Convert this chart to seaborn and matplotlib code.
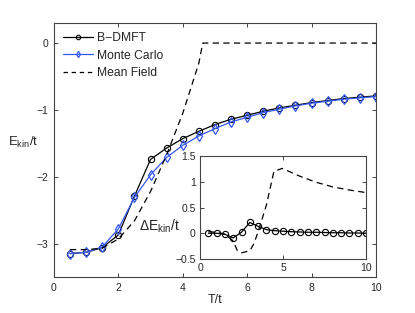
import matplotlib
matplotlib.use("Agg")
import matplotlib.pyplot as plt
import numpy as np
import pandas as pd
import seaborn as sns

# temperatures for the DMFT / MC points
T = [0.5, 1.0, 1.5, 2.0, 2.5, 3.0, 3.5, 4.0, 4.5, 5.0,
     5.5, 6.0, 6.5, 7.0, 7.5, 8.0, 8.5, 9.0, 9.5, 10.0]
bdmft = [-3.15, -3.13, -3.06, -2.87, -2.29, -1.74, -1.57, -1.43, -1.32, -1.22,
         -1.14, -1.08, -1.02, -0.97, -0.93, -0.89, -0.86, -0.83, -0.81, -0.79]
monte_carlo = [-3.15, -3.13, -3.05, -2.78, -2.31, -1.97, -1.71, -1.53, -1.39, -1.28,
               -1.18, -1.11, -1.04, -0.99, -0.94, -0.90, -0.87, -0.84, -0.82, -0.80]

# mean field curve
T_mf = [0.5, 1.0, 1.5, 2.0, 2.5, 3.0, 3.5, 4.0, 4.5, 4.62, 10.0]
mean_field = [-3.09, -3.09, -3.07, -2.93, -2.66, -2.22, -1.67, -1.05, -0.30, 0.0, 0.0]

# inset: differences
d_bdmft = [0.0, 0.0, -0.02, -0.09, 0.02, 0.21, 0.135, 0.07, 0.05, 0.04,
           0.03, 0.025, 0.02, 0.02, 0.015, 0.01, 0.01, 0.005, 0.005, 0.0]
T_dmf = [0.5, 1.0, 1.5, 2.0, 2.25, 2.5, 3.0, 3.25, 3.5, 4.0, 4.45, 4.95, 6.0, 7.0, 8.0, 9.0, 10.0]
d_mf = [0.03, 0.02, -0.02, -0.15, -0.34, -0.38, -0.34, -0.2, 0.03, 0.55, 1.2, 1.26,
        1.11, 0.99, 0.9, 0.84, 0.79]

sns.set_style("ticks")
plt.rcParams['font.family'] = ['Liberation Sans', 'DejaVu Sans']
plt.rcParams['mathtext.fontset'] = 'custom'
plt.rcParams['mathtext.rm'] = 'Liberation Sans'
plt.rcParams['xtick.direction'] = 'in'
plt.rcParams['ytick.direction'] = 'in'
plt.rcParams['xtick.top'] = True
plt.rcParams['ytick.right'] = True
plt.rcParams['axes.edgecolor'] = '#444444'
plt.rcParams['axes.linewidth'] = 0.8

blue = '#3558f0'
fs = 7.5

fig = plt.figure(figsize=(4.15, 3.13), dpi=100)
ax = fig.add_axes([0.130, 0.115, 0.776, 0.8115])

df = pd.DataFrame({'T': T, 'bdmft': bdmft, 'mc': monte_carlo})
dmf = pd.DataFrame({'T': T_mf, 'mf': mean_field})

sns.lineplot(data=df, x='T', y='bdmft', ax=ax, color='black', lw=0.9, marker='o',
             markersize=4.5, markerfacecolor='none', markeredgecolor='black',
             markeredgewidth=0.8, label='B\u2212DMFT')
sns.lineplot(data=df, x='T', y='mc', ax=ax, color=blue, lw=0.9, marker='d',
             markersize=5, markerfacecolor='none', markeredgecolor=blue,
             markeredgewidth=0.9, label='Monte Carlo')
sns.lineplot(data=dmf, x='T', y='mf', ax=ax, color='black', lw=0.9,
             label='Mean Field')
ax.lines[-1].set_dashes((5, 3.5))

ax.set_xlim(0, 10)
ax.set_ylim(-3.5, 0.3)
ax.set_xticks([0, 2, 4, 6, 8, 10])
ax.set_yticks([-3, -2, -1, 0])
ax.tick_params(labelsize=fs, length=3, width=0.6, pad=4)
ax.set_xlabel('T/t', fontsize=9, labelpad=1)
ax.set_ylabel('E$_{\\mathrm{kin}}$/t', fontsize=9.5, rotation=0, labelpad=0)
ax.yaxis.set_label_coords(-0.095, 0.5)

leg = ax.legend(loc='upper left', frameon=False, fontsize=8.7,
                handlelength=2.5, handletextpad=0.35, labelspacing=0.45,
                borderaxespad=0.35)
for h in leg.legend_handles:
    h.set_markersize(3.2)
    h.set_linewidth(0.9)
leg.legend_handles[2].set_dashes((3.5, 3))

# inset
ins = fig.add_axes([0.482, 0.1725, 0.400, 0.329])
di = pd.DataFrame({'T': T, 'd': d_bdmft})
dmi = pd.DataFrame({'T': T_dmf, 'd': d_mf})
sns.lineplot(data=dmi, x='T', y='d', ax=ins, color='black', lw=0.9)
ins.lines[-1].set_dashes((5, 3.5))
sns.lineplot(data=di, x='T', y='d', ax=ins, color='black', lw=0.9, marker='o',
             markersize=4.5, markerfacecolor='none', markeredgecolor='black',
             markeredgewidth=0.8)
ins.set_xlim(0, 10)
ins.set_ylim(-0.5, 1.5)
ins.set_xticks([0, 5, 10])
ins.set_yticks([-0.5, 0, 0.5, 1, 1.5])
ins.set_yticklabels(['\u22120.5', '0', '0.5', '1', '1.5'])
ins.tick_params(labelsize=fs, length=3, width=0.6, pad=3)
ins.set_xlabel('')
ins.set_ylabel('')
fig.text(0.335, 0.277, '\u0394E$_{\\mathrm{kin}}$/t', fontsize=10,
         ha='left', va='center')

plt.savefig('out.png', dpi=100)
